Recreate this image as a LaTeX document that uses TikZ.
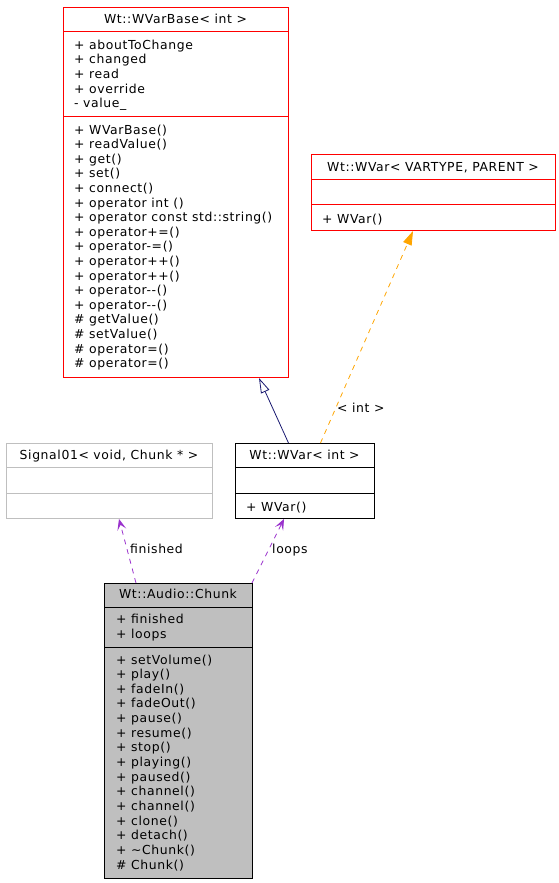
\documentclass[tikz,border=0pt]{standalone}
\usepackage{fontspec}
\setmainfont{DejaVu Sans}[LetterSpace=5.0]
\usetikzlibrary{arrows.meta,calc}
\definecolor{umlred}{HTML}{FF0000}
\definecolor{umlgray}{HTML}{BFBFBF}
\definecolor{umlnavy}{HTML}{191970}
\definecolor{umlorange}{HTML}{FFA500}
\definecolor{umlpurple}{HTML}{9A32CD}
\begin{document}
\begin{tikzpicture}[x=1pt,y=-1pt,
  box/.style={draw,line width=1pt,inner sep=0pt,anchor=north west},
  txt/.style={inner sep=0pt,anchor=base west,font=\fontsize{12.4}{14}\selectfont,text=black},
  ttl/.style={inner sep=0pt,anchor=base,font=\fontsize{12.4}{14}\selectfont,text=black},
  sep/.style={line width=1pt},
  elabel/.style={inner sep=0pt,anchor=base west,font=\fontsize{12.4}{14}\selectfont,text=black},
  inherit/.style={umlnavy,line width=0.8pt,-{Triangle[open,length=15pt,width=9pt,fill=white]}},
  templ/.style={umlorange,line width=0.8pt,dash pattern=on 5pt off 5pt,-{Triangle[length=14pt,width=9pt]}},
  usage/.style={umlpurple,line width=0.8pt,dash pattern=on 5pt off 5pt,-{Stealth[length=11pt,width=9pt,inset=5pt]}}
]
\useasboundingbox (0,0) rectangle (559,883);

% ---- Wt::WVarBase< int > ----
\node[box,umlred,minimum width=225pt,minimum height=370pt] (base) at (63,7) {};
\draw[sep,umlred] (63,32) -- (288,32);
\draw[sep,umlred] (63,116) -- (288,116);
\node[ttl] (baset) at (175.5,24) {Wt::WVarBase< int >};
\node[txt] (ba1) at (74,49) {+ aboutToChange};
\node[txt] (ba2) at (74,63.7) {+ changed};
\node[txt] (ba3) at (74,78.4) {+ read};
\node[txt] (ba4) at (74,93.1) {+ override};
\node[txt] (ba5) at (74,107.8) {- value\_};
\node[txt] (bm1) at (74,134) {+ WVarBase()};
\node[txt] (bm2) at (74,148.6) {+ readValue()};
\node[txt] (bm3) at (74,163.2) {+ get()};
\node[txt] (bm4) at (74,177.8) {+ set()};
\node[txt] (bm5) at (74,192.4) {+ connect()};
\node[txt] (bm6) at (74,207) {+ operator int ()};
\node[txt] (bm7) at (74,221.6) {+ operator const std::string()};
\node[txt] (bm8) at (74,236.2) {+ operator+=()};
\node[txt] (bm9) at (74,250.8) {+ operator-=()};
\node[txt] (bm10) at (74,265.4) {+ operator++()};
\node[txt] (bm11) at (74,280) {+ operator++()};
\node[txt] (bm12) at (74,294.6) {+ operator-{}-()};
\node[txt] (bm13) at (74,309.2) {+ operator-{}-()};
\node[txt] (bm14) at (74,323.8) {\# getValue()};
\node[txt] (bm15) at (74,338.4) {\# setValue()};
\node[txt] (bm16) at (74,353) {\# operator=()};
\node[txt] (bm17) at (74,367.6) {\# operator=()};

% ---- Wt::WVar< VARTYPE, PARENT > ----
\node[box,umlred,minimum width=244pt,minimum height=76pt] (tvar) at (311,154) {};
\draw[sep,umlred] (311,179) -- (555,179);
\draw[sep,umlred] (311,204) -- (555,204);
\node[ttl] (tvart) at (433,171) {Wt::WVar< VARTYPE, PARENT >};
\node[txt] (tvm1) at (322,223) {+ WVar()};

% ---- Signal01< void, Chunk * > ----
\node[box,umlgray,minimum width=206pt,minimum height=75pt] (sig) at (6,443) {};
\draw[sep,umlgray] (6,467.5) -- (212,467.5);
\draw[sep,umlgray] (6,493) -- (212,493);
\node[ttl] (sigt) at (109,459.5) {Signal01< void, Chunk * >};

% ---- Wt::WVar< int > ----
\node[box,black,minimum width=139pt,minimum height=75pt] (ivar) at (235,443) {};
\draw[sep,black] (235,467.5) -- (374,467.5);
\draw[sep,black] (235,493) -- (374,493);
\node[ttl] (ivart) at (304.5,459.5) {Wt::WVar< int >};
\node[txt] (ivm1) at (246,511) {+ WVar()};

% ---- Wt::Audio::Chunk ----
\node[box,black,fill=umlgray,minimum width=148pt,minimum height=295pt] (chunk) at (104,583) {};
\draw[sep,black] (104,607) -- (252,607);
\draw[sep,black] (104,647) -- (252,647);
\node[ttl] (chunkt) at (178,598.5) {Wt::Audio::Chunk};
\node[txt] (ca1) at (116,623.5) {+ finished};
\node[txt] (ca2) at (116,638) {+ loops};
\node[txt] (cm1) at (116,664) {+ setVolume()};
\node[txt] (cm2) at (116,678.6) {+ play()};
\node[txt] (cm3) at (116,693.3) {+ fadeIn()};
\node[txt] (cm4) at (116,707.9) {+ fadeOut()};
\node[txt] (cm5) at (116,722.6) {+ pause()};
\node[txt] (cm6) at (116,737.2) {+ resume()};
\node[txt] (cm7) at (116,751.9) {+ stop()};
\node[txt] (cm8) at (116,766.5) {+ playing()};
\node[txt] (cm9) at (116,781.1) {+ paused()};
\node[txt] (cm10) at (116,795.8) {+ channel()};
\node[txt] (cm11) at (116,810.4) {+ channel()};
\node[txt] (cm12) at (116,825.1) {+ clone()};
\node[txt] (cm13) at (116,839.7) {+ detach()};
\node[txt] (cm14) at (116,854.4) {+ \textasciitilde Chunk()};
\node[txt] (cm15) at (116,869) {\# Chunk()};

% ---- connectors ----
\draw[inherit] ([xshift=-16.5pt]ivar.north) -- ([xshift=196pt]base.south west);
\draw[templ] ([xshift=15.5pt]ivar.north) -- ([xshift=102pt]tvar.south west);
\node[elabel] (lint) at (337,412) {< int >};
\draw[usage] ([xshift=32pt]chunk.north west) -- ([xshift=113pt]sig.south west);
\node[elabel] (lfin) at (130,553) {finished};
\draw[usage] ([xshift=148pt]chunk.north west) -- ([xshift=49pt]ivar.south west);
\node[elabel] (lloops) at (272,553) {loops};
\end{tikzpicture}
\end{document}
